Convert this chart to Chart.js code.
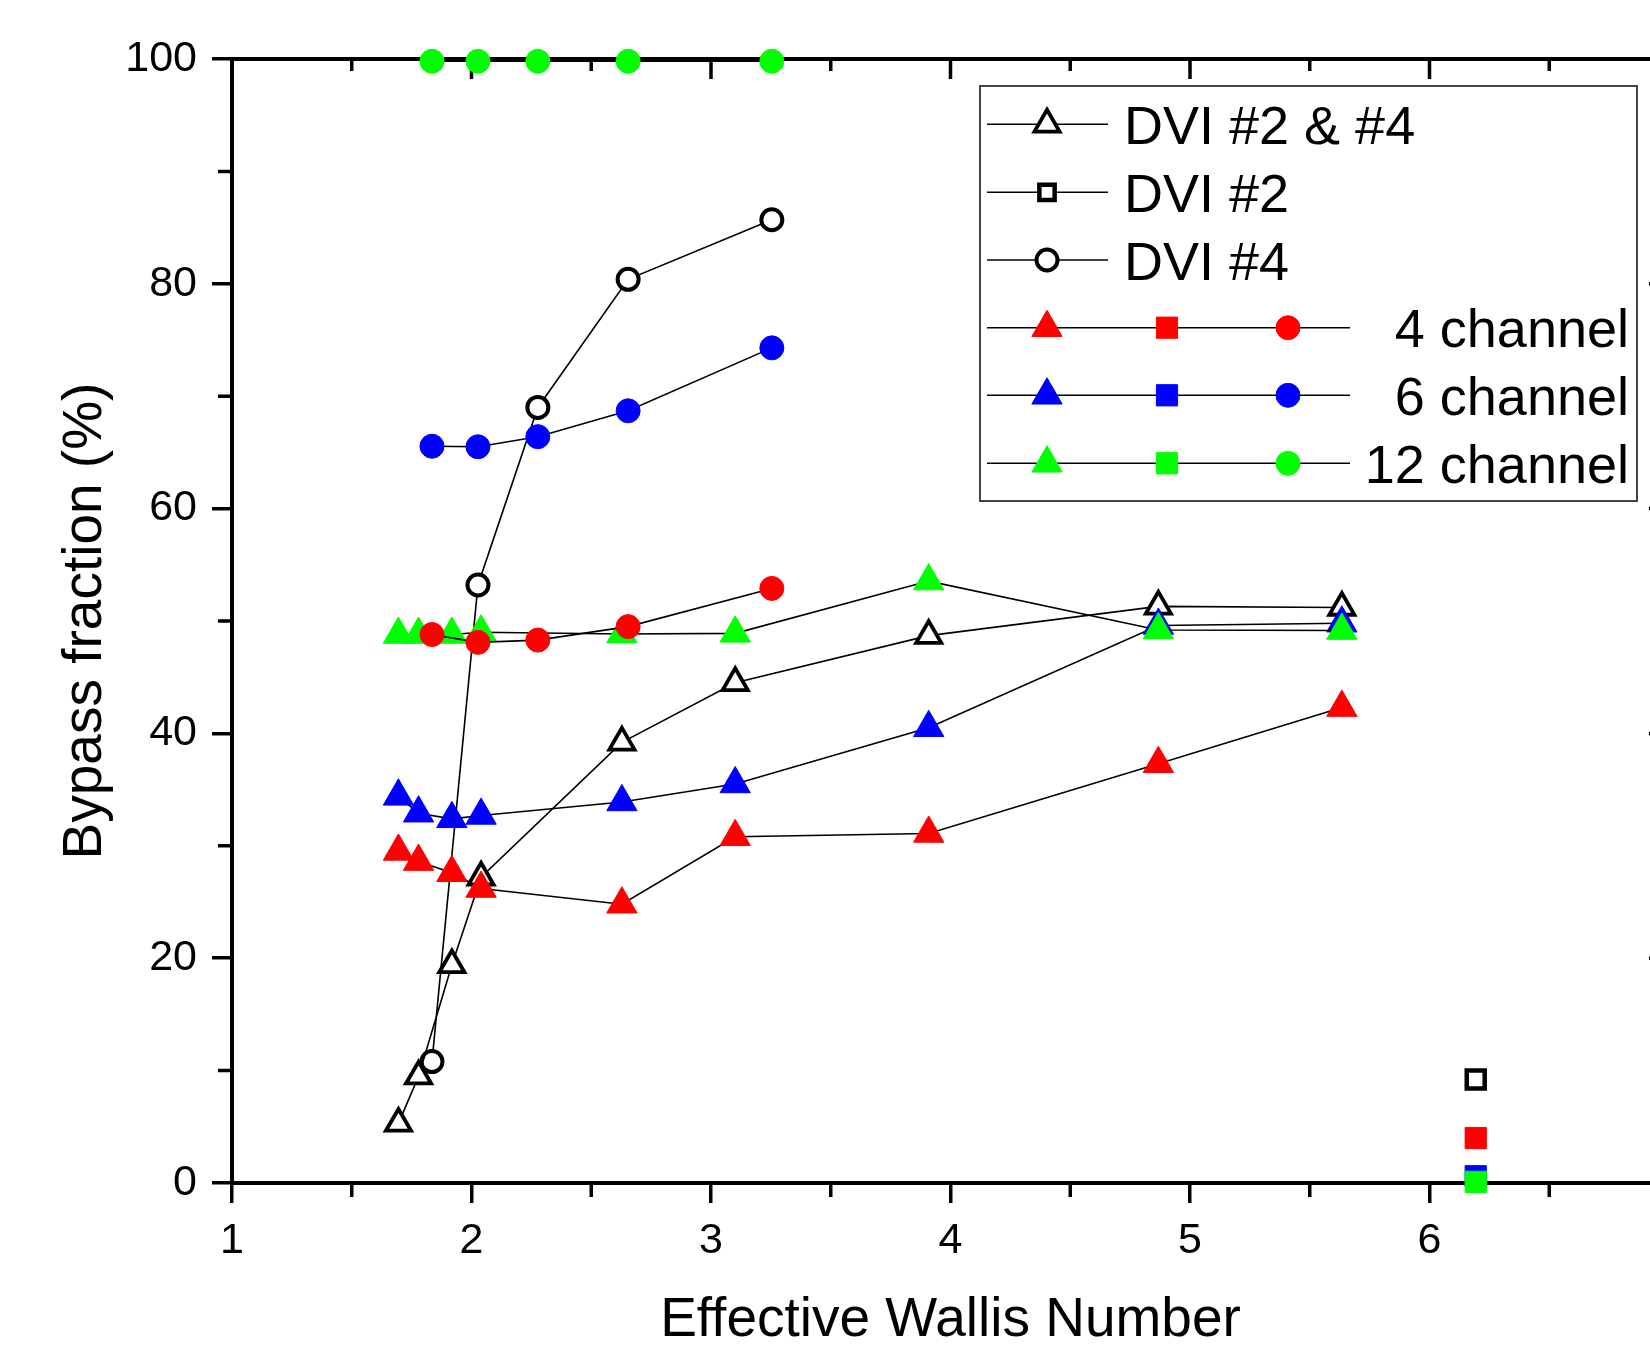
<!DOCTYPE html>
<html>
<head>
<meta charset="utf-8">
<script src="https://cdn.jsdelivr.net/npm/chart.js@4.4.1/dist/chart.umd.min.js"></script>
<style>
html,body{margin:0;padding:0;background:#fff;overflow:hidden;}
#wrap{width:1700px;height:1359px;}
canvas{display:block;}
</style>
</head>
<body>
<div id="wrap"><canvas id="c" width="1700" height="1359"></canvas></div>
<script>
// ---------------- data ----------------
const xTicks = [1, 2, 3, 4, 5, 6, 7];
const yTicks = [0, 20, 40, 60, 80, 100];
const xTitle = 'Effective Wallis Number';
const yTitle = 'Bypass fraction (%)';

const triX  = [1.695, 1.779, 1.918, 2.040, 2.628, 3.101, 3.909, 4.868, 5.634];
const circX = [1.835, 2.027, 2.277, 2.654, 3.254];
const sqX   = [6.193];

const dvi24Tri = [5.3, 9.5, 19.4, 27.2, 39.2, 44.5, 48.7, 51.3, 51.2];
const dvi2Sq   = [9.2];
const dvi4Circ = [10.8, 53.2, 69.0, 80.4, 85.7];

const ch4Tri  = [29.5, 28.6, 27.6, 26.2, 24.8, 30.8, 31.1, 37.3, 42.3];
const ch4Sq   = [4.0];
const ch4Circ = [48.8, 48.1, 48.3, 49.5, 52.9];

const ch6Tri  = [34.4, 32.9, 32.4, 32.7, 33.9, 35.5, 40.5, 49.6, 49.8];
const ch6Sq   = [0.6];
const ch6Circ = [65.55, 65.5, 66.4, 68.7, 74.3];

const ch12Tri  = [48.8, 48.8, 48.8, 49.0, 48.85, 48.9, 53.55, 49.2, 49.15];
const ch12Sq   = [0.1];
const ch12Circ = [99.8, 99.8, 99.8, 99.8, 99.8];

const legendLabels = ['DVI #2 & #4', 'DVI #2', 'DVI #4', '4 channel', '6 channel', '12 channel'];

// ---------------- styles ----------------
const RED = '#ff0000', BLUE = '#0000ff', GREEN = '#00ff00', BLACK = '#000000';
const FONT = '"Liberation Sans", Arial, Helvetica, sans-serif';
Chart.defaults.font.family = FONT;
Chart.defaults.color = '#000';

const MS = {
  triOpen:  {style: 'triangle', r: 14.5, bw: 3.8},
  triFill:  {style: 'triangle', r: 17.5, bw: 1},
  circOpen: {style: 'circle',   r: 10.5, bw: 4},
  circFill: {style: 'circle',   r: 12,   bw: 1},
  sqOpen:   {style: 'rect',     r: 12.7, bw: 4.5},
  sqFill:   {style: 'rect',     r: 15,   bw: 1}
};

function series(label, xs, ys, m, fill, stroke) {
  return {
    label,
    data: xs.map((x, i) => ({x, y: ys[i]})),
    showLine: true,
    borderColor: '#000',
    borderWidth: 1.6,
    tension: 0,
    pointStyle: m.style,
    pointRadius: m.r,
    pointHoverRadius: m.r,
    pointBackgroundColor: fill,
    pointBorderColor: stroke,
    pointBorderWidth: m.bw,
    pointHoverBorderWidth: m.bw,
    clip: false
  };
}

const datasets = [
  series('DVI #4', circX, dvi4Circ, MS.circOpen, '#fff', BLACK),
  series('DVI #2', sqX, dvi2Sq, MS.sqOpen, '#fff', BLACK),
  series('DVI #2 & #4', triX, dvi24Tri, MS.triOpen, '#fff', BLACK),
  series('4 channel tri', triX, ch4Tri, MS.triFill, RED, RED),
  series('6 channel tri', triX, ch6Tri, MS.triFill, BLUE, BLUE),
  series('12 channel tri', triX, ch12Tri, MS.triFill, GREEN, GREEN),
  series('4 channel sq', sqX, ch4Sq, MS.sqFill, RED, RED),
  series('6 channel sq', sqX, ch6Sq, MS.sqFill, BLUE, BLUE),
  series('12 channel sq', sqX, ch12Sq, MS.sqFill, GREEN, GREEN),
  series('4 channel circ', circX, ch4Circ, MS.circFill, RED, RED),
  series('6 channel circ', circX, ch6Circ, MS.circFill, BLUE, BLUE),
  series('12 channel circ', circX, ch12Circ, MS.circFill, GREEN, GREEN)
];
datasets.forEach((d, i) => { d.order = datasets.length - i; });

// ---------------- plugins ----------------
const frameAxes = {
  id: 'frameAxes',
  beforeDatasetsDraw(chart) {
    const {ctx, chartArea: a, scales: {x, y}} = chart;
    ctx.save();
    ctx.strokeStyle = '#000';
    ctx.lineCap = 'butt';
    ctx.lineWidth = 4;
    ctx.beginPath();
    ctx.moveTo(a.left - 2, a.top); ctx.lineTo(a.right + 2, a.top);
    ctx.moveTo(a.right, a.top); ctx.lineTo(a.right, a.bottom + 2);
    ctx.stroke();
    ctx.lineWidth = 3.5;
    ctx.beginPath();
    for (let i = 0; i < xTicks.length; i++) {
      const px = x.getPixelForValue(xTicks[i]);
      ctx.moveTo(px, a.top); ctx.lineTo(px, a.top + 20);
      if (i < xTicks.length - 1) {
        const pm = x.getPixelForValue((xTicks[i] + xTicks[i + 1]) / 2);
        ctx.moveTo(pm, a.top); ctx.lineTo(pm, a.top + 12);
        ctx.moveTo(pm, a.bottom + 2); ctx.lineTo(pm, a.bottom + 14);
      }
    }
    for (let i = 0; i < yTicks.length; i++) {
      const py = y.getPixelForValue(yTicks[i]);
      ctx.moveTo(a.right, py); ctx.lineTo(a.right - 20, py);
      if (i < yTicks.length - 1) {
        const pm = y.getPixelForValue((yTicks[i] + yTicks[i + 1]) / 2);
        ctx.moveTo(a.right, pm); ctx.lineTo(a.right - 12, pm);
        ctx.moveTo(a.left - 2, pm); ctx.lineTo(a.left - 14, pm);
      }
    }
    ctx.stroke();
    ctx.restore();
  }
};

function mark(ctx, m, x, y, fill, stroke, rOverride) {
  const r = rOverride || m.r;
  ctx.beginPath();
  if (m.style === 'circle') {
    ctx.arc(x, y, r, 0, Math.PI * 2);
  } else if (m.style === 'triangle') {
    for (let k = 0; k < 3; k++) {
      const ang = k * 2 * Math.PI / 3;
      const px = x + Math.sin(ang) * r, py = y - Math.cos(ang) * r;
      if (k === 0) ctx.moveTo(px, py); else ctx.lineTo(px, py);
    }
    ctx.closePath();
  } else {
    const s = r * Math.SQRT1_2;
    ctx.rect(x - s, y - s, 2 * s, 2 * s);
  }
  ctx.fillStyle = fill;
  ctx.fill();
  if (m.bw > 0) { ctx.lineWidth = m.bw; ctx.strokeStyle = stroke; ctx.stroke(); }
}

const legendBox = {
  id: 'legendBox',
  afterDraw(chart) {
    const ctx = chart.ctx;
    ctx.save();
    const bx = 980, by = 86, bw = 657, bh = 415;
    ctx.fillStyle = '#fff';
    ctx.fillRect(bx, by, bw, bh);
    ctx.strokeStyle = '#444';
    ctx.lineWidth = 2;
    ctx.strokeRect(bx, by, bw, bh);

    const rowY = [124.3, 192.3, 260, 327.7, 395.3, 463.3];
    const singles = [
      [MS.triOpen, '#fff', BLACK],
      [MS.sqOpen, '#fff', BLACK],
      [MS.circOpen, '#fff', BLACK]
    ];
    const chColors = [RED, BLUE, GREEN];
    ctx.font = '54px ' + FONT;
    ctx.textBaseline = 'alphabetic';
    for (let i = 0; i < 6; i++) {
      const yy = rowY[i];
      ctx.strokeStyle = '#000';
      ctx.lineWidth = 1.6;
      ctx.beginPath();
      if (i < 3) {
        ctx.moveTo(987, yy); ctx.lineTo(1108, yy);
        ctx.stroke();
        const s = singles[i];
        mark(ctx, s[0], 1047, yy, s[1], s[2], s[0] === MS.sqOpen ? 10.8 : 0);
        ctx.fillStyle = '#000';
        ctx.textAlign = 'left';
        ctx.fillText(legendLabels[i], 1124, yy + 19.5);
      } else {
        ctx.moveTo(987, yy); ctx.lineTo(1350, yy);
        ctx.stroke();
        const c = chColors[i - 3];
        mark(ctx, MS.triFill, 1047, yy, c, c);
        mark(ctx, MS.sqFill, 1167, yy, c, c);
        mark(ctx, MS.circFill, 1288, yy, c, c);
        ctx.fillStyle = '#000';
        ctx.textAlign = 'right';
        ctx.fillText(legendLabels[i], 1629, yy + 19.5);
      }
    }
    ctx.restore();
  }
};

// ---------------- chart ----------------
new Chart(document.getElementById('c'), {
  type: 'scatter',
  data: {datasets},
  options: {
    responsive: false,
    animation: false,
    events: [],
    layout: {padding: {left: 0, top: 59, right: 31, bottom: 0}},
    plugins: {legend: {display: false}, tooltip: {enabled: false}},
    scales: {
      x: {
        type: 'linear', position: 'bottom', min: xTicks[0], max: xTicks[xTicks.length - 1],
        afterBuildTicks: s => { s.ticks = xTicks.map(v => ({value: v})); },
        afterFit: s => { s.height = 176; },
        ticks: {font: {size: 43}, padding: 12, maxRotation: 0, autoSkip: false, color: '#000', callback: v => String(v)},
        grid: {drawOnChartArea: false, drawTicks: true, tickLength: 20, tickWidth: 3.5, tickColor: '#000', color: '#000', lineWidth: 3.5},
        border: {display: true, width: 4, color: '#000'},
        title: {display: true, text: xTitle, font: {size: 55}, color: '#000', padding: {top: 0, bottom: 5}}
      },
      y: {
        type: 'linear', position: 'left', min: yTicks[0], max: yTicks[yTicks.length - 1],
        afterBuildTicks: s => { s.ticks = yTicks.map(v => ({value: v})); },
        afterFit: s => { s.width = 232; },
        ticks: {font: {size: 43}, padding: 15, autoSkip: false, color: '#000', callback: v => String(v)},
        grid: {drawOnChartArea: false, drawTicks: true, tickLength: 20, tickWidth: 3.5, tickColor: '#000', color: '#000', lineWidth: 3.5},
        border: {display: true, width: 4, color: '#000'},
        title: {display: true, text: yTitle, font: {size: 55}, color: '#000', padding: {top: 53, bottom: 0}}
      }
    }
  },
  plugins: [frameAxes, legendBox]
});
</script>
</body>
</html>
